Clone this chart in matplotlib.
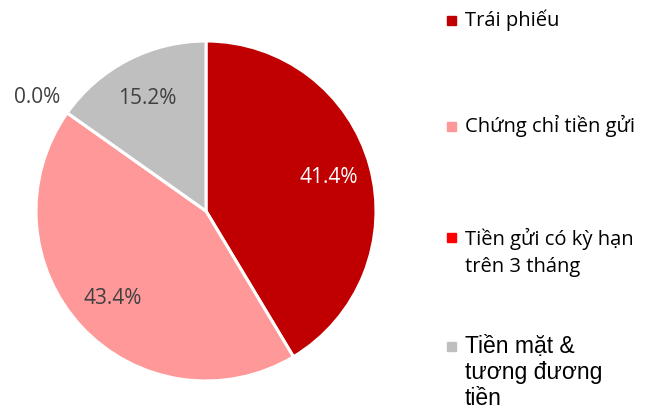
import numpy as np
import matplotlib
matplotlib.use('Agg')
import matplotlib.pyplot as plt

labels = ['Trái phiếu', 'Chứng chỉ tiền gửi',
          'Tiền gửi có kỳ hạn\ntrên 3 tháng', 'Tiền mặt &\ntương đương\ntiền']
values = [41.4, 43.4, 0.0, 15.2]
colors = ['#C00000', '#FF9999', '#FF0000', '#BFBFBF']

plt.rcParams['font.family'] = ['Open Sans', 'DejaVu Sans']

fig = plt.figure(figsize=(6.55, 4.10), dpi=100)
ax = fig.add_axes([36 / 655, 28 / 410, 340 / 655, 340 / 410])

wedges, texts, autotexts = ax.pie(
    values, colors=colors, startangle=90, counterclock=False,
    autopct='%.1f%%', pctdistance=0.75,
    wedgeprops=dict(edgecolor='white', linewidth=2.2),
    textprops=dict(fontsize=15, color='#404040'))
ax.set_xlim(-1, 1)
ax.set_ylim(-1, 1)

autotexts[0].set_color('white')
# zero slice label sits outside the pie
ang = np.deg2rad((wedges[2].theta1 + wedges[2].theta2) / 2)
autotexts[2].set_position((1.22 * np.cos(ang), 1.17 * np.sin(ang)))

# legend drawn by hand to keep the spacing of the original
mark_y = [21, 127, 238, 347]
base_y = [26, 132, 245, 353]
for i, lab in enumerate(labels):
    ym = 1 - mark_y[i] / 410
    fig.patches.append(plt.Rectangle((447 / 655, ym - 4.5 / 410), 9 / 655, 9 / 410,
                                     transform=fig.transFigure, color=colors[i]))
    if i < 3:
        kw = dict(fontsize=14.5)
        step = 27
    else:
        kw = dict(fontsize=16.5, family=['Liberation Sans', 'DejaVu Sans'])
        step = 26
    for j, line in enumerate(lab.split('\n')):
        yb = 1 - (base_y[i] + j * step) / 410
        fig.text(465 / 655, yb, line, color='black', va='baseline', ha='left', **kw)

fig.savefig('out.png', dpi=100)
